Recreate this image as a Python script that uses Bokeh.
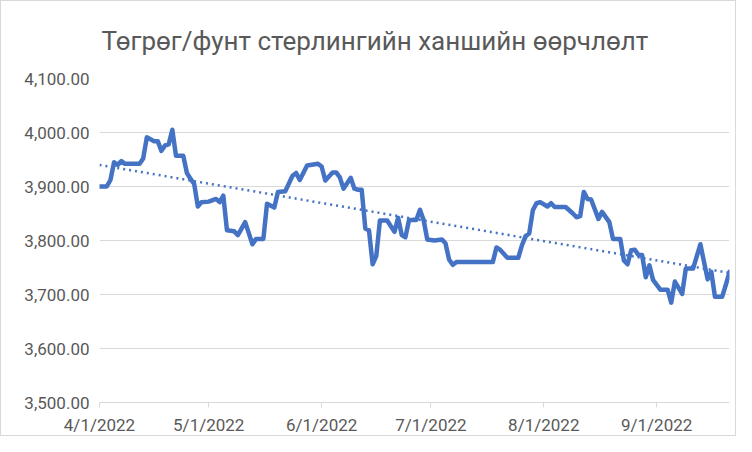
from datetime import datetime
from bokeh.plotting import figure
from bokeh.models import FixedTicker, NumeralTickFormatter, Range1d
from bokeh.embed import file_html
from bokeh.resources import INLINE

YEAR = 2022
title_text = "Төгрөг/фунт стерлингийн ханшийн өөрчлөлт"

dates = [
    "4/1", "4/3", "4/4", "4/5", "4/6", "4/7", "4/8", "4/12", "4/13", "4/14",
    "4/16", "4/17", "4/18", "4/19", "4/20", "4/21", "4/22", "4/24", "4/25", "4/26",
    "4/27", "4/28", "4/29", "5/1", "5/3", "5/4", "5/5", "5/6", "5/8", "5/9",
    "5/11", "5/13", "5/14", "5/16", "5/17", "5/19", "5/20", "5/22", "5/24", "5/25",
    "5/26", "5/28", "5/31", "6/1", "6/2", "6/4", "6/5", "6/6", "6/7", "6/9",
    "6/10", "6/11", "6/12", "6/13", "6/14", "6/15", "6/16", "6/17", "6/19", "6/21",
    "6/22", "6/23", "6/24", "6/25", "6/27", "6/28", "6/29", "6/30", "7/2", "7/4",
    "7/5", "7/6", "7/7", "7/8", "7/18", "7/19", "7/20", "7/22", "7/25", "7/26",
    "7/27", "7/28", "7/29", "7/30", "7/31", "8/2", "8/3", "8/4", "8/7", "8/9",
    "8/10", "8/11", "8/12", "8/13", "8/14", "8/16", "8/17", "8/19", "8/20", "8/22",
    "8/23", "8/24", "8/25", "8/26", "8/27", "8/28", "8/29", "8/30", "8/31", "9/2",
    "9/4", "9/5", "9/6", "9/8", "9/9", "9/11", "9/13", "9/15", "9/16", "9/17",
    "9/19", "9/20", "9/21",
]
rates = [
    3900, 3900, 3912, 3945, 3940, 3947, 3942, 3942, 3952, 3991,
    3984, 3984, 3966, 3976, 3978, 4005, 3957, 3957, 3925, 3914,
    3905, 3863, 3871, 3872, 3877, 3871, 3883, 3819, 3817, 3810,
    3834, 3793, 3803, 3803, 3868, 3861, 3890, 3891, 3920, 3925,
    3912, 3939, 3942, 3937, 3911, 3926, 3926, 3917, 3896, 3916,
    3896, 3894, 3894, 3822, 3819, 3756, 3771, 3837, 3837, 3816,
    3842, 3810, 3806, 3838, 3838, 3857, 3838, 3802, 3800, 3802,
    3795, 3765, 3755, 3760, 3760, 3787, 3783, 3768, 3768, 3791,
    3808, 3813, 3856, 3869, 3871, 3863, 3869, 3862, 3862, 3850,
    3843, 3845, 3890, 3877, 3876, 3840, 3853, 3834, 3803, 3803,
    3763, 3756, 3782, 3783, 3773, 3773, 3732, 3754, 3727, 3709,
    3709, 3685, 3724, 3701, 3748, 3748, 3793, 3728, 3742, 3696,
    3696, 3718, 3742,
]

trend_dates = ["4/1", "9/21"]
trend_rates = [3940, 3740]

x_tick_dates = ["4/1", "5/1", "6/1", "7/1", "8/1", "9/1"]
x_tick_labels = ["4/1/2022", "5/1/2022", "6/1/2022", "7/1/2022", "8/1/2022", "9/1/2022"]
y_ticks = [3500, 3600, 3700, 3800, 3900, 4000, 4100]


def to_dt(s):
    m, d = s.split("/")
    return datetime(YEAR, int(m), int(d))


def to_ms(dt):
    return (dt - datetime(1970, 1, 1)).total_seconds() * 1000.0


BLUE = "#4472C4"
GRID = "#D9D9D9"
TEXT = "#595959"
FONT = "Roboto"

p = figure(
    width=736, height=436,
    x_axis_type="datetime",
    x_range=Range1d(to_dt(dates[0]), to_dt(dates[-1])),
    y_range=Range1d(y_ticks[0], y_ticks[-1]),
    output_backend="svg", toolbar_location=None,
    min_border_left=98, min_border_right=8,
    min_border_top=77, min_border_bottom=33,
    title=title_text,
)
p.outline_line_color = None
p.background_fill_color = "white"
p.border_fill_color = "white"
p.styles = {"border": "1px solid #D9D9D9"}

p.title.align = "left"
p.title.offset = 2
p.title.standoff = 45
p.title.text_font = FONT
p.title.text_font_size = "26px"
p.title.text_font_style = "normal"
p.title.text_color = TEXT

# trendline (dotted)
p.line([to_dt(s) for s in trend_dates], trend_rates, line_color=BLUE,
       line_width=2.5, line_dash="2 4", line_cap="butt")
# series
p.line([to_dt(s) for s in dates], rates, line_color=BLUE, line_width=4.5,
       line_join="round", line_cap="round")

# y axis
p.yaxis.ticker = FixedTicker(ticks=y_ticks)
p.yaxis.formatter = NumeralTickFormatter(format="0,0.00")
p.yaxis.axis_line_color = None
p.yaxis.major_tick_line_color = None
p.yaxis.minor_tick_line_color = None
p.yaxis.major_tick_out = 0
p.yaxis.major_tick_in = 0
p.yaxis.major_label_standoff = 10
p.yaxis.major_label_text_font = FONT
p.yaxis.major_label_text_font_size = "17px"
p.yaxis.major_label_text_color = TEXT

# x axis
tick_ms = [to_ms(to_dt(s)) for s in x_tick_dates]
p.xaxis.ticker = FixedTicker(ticks=tick_ms)
p.xaxis.major_label_overrides = {t: lab for t, lab in zip(tick_ms, x_tick_labels)}
p.xaxis.axis_line_color = GRID
p.xaxis.major_tick_line_color = GRID
p.xaxis.minor_tick_line_color = None
p.xaxis.major_tick_out = 5
p.xaxis.major_tick_in = 0
p.xaxis.major_label_standoff = 7
p.xaxis.major_label_text_font = FONT
p.xaxis.major_label_text_font_size = "17px"
p.xaxis.major_label_text_color = TEXT

p.xgrid.visible = False
p.ygrid.grid_line_color = GRID
p.ygrid.grid_line_width = 1

open("out.html", "w").write(file_html(p, INLINE))
